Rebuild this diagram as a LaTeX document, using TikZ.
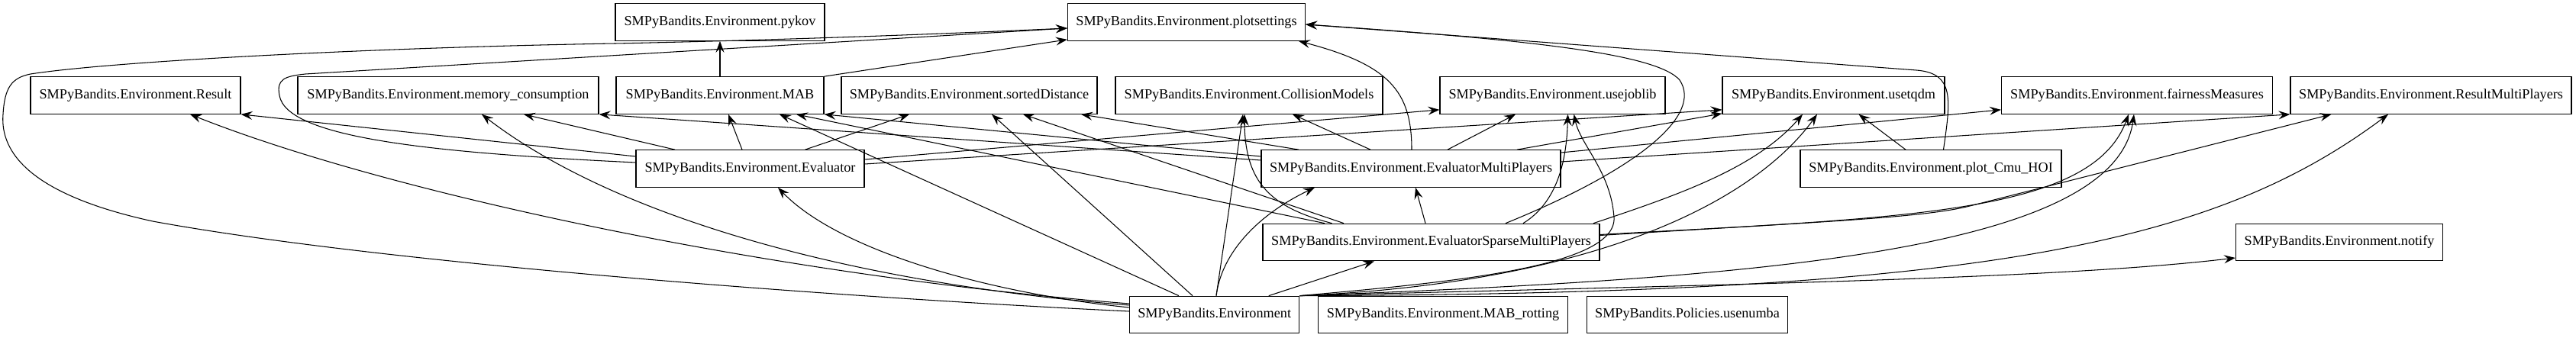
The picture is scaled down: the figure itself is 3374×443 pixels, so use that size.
\documentclass[tikz,border=0pt]{standalone}
\usepackage{fontspec}
\setmainfont{Liberation Serif}
\usetikzlibrary{arrows.meta}
\begin{document}
\begin{tikzpicture}[x=1pt,y=-1pt,
  box/.style={draw, line width=1.2pt, rectangle, minimum height=48.5pt, inner sep=0pt, font=\fontsize{18.2}{20}\selectfont},
  arr/.style={line width=1.05pt, -{Stealth[length=15pt,width=11pt,inset=5.5pt]}}]
\useasboundingbox (0,0) rectangle (3374,443);
\fill[white] (0,0) rectangle (3374,443);
% row 1
\node[box, minimum width=274pt] (pykov) at (943,29) {SMPyBandits.Environment.pykov};
\node[box, minimum width=311pt] (plotsettings) at (1554,29) {SMPyBandits.Environment.plotsettings};
% row 2
\node[box, minimum width=275pt] (Result) at (177.5,125) {SMPyBandits.Environment.Result};
\node[box, minimum width=394pt] (memory) at (587,125) {SMPyBandits.Environment.memory\_consumption};
\node[box, minimum width=272pt] (MAB) at (943,125) {SMPyBandits.Environment.MAB};
\node[box, minimum width=335pt] (sortedDistance) at (1269.5,125) {SMPyBandits.Environment.sortedDistance};
\node[box, minimum width=350pt] (CollisionModels) at (1636,125) {SMPyBandits.Environment.CollisionModels};
\node[box, minimum width=295pt] (usejoblib) at (2033.5,125) {SMPyBandits.Environment.usejoblib};
\node[box, minimum width=291pt] (usetqdm) at (2401.5,125) {SMPyBandits.Environment.usetqdm};
\node[box, minimum width=355pt] (fairness) at (2799,125) {SMPyBandits.Environment.fairnessMeasures};
\node[box, minimum width=368pt] (ResultMP) at (3184,125) {SMPyBandits.Environment.ResultMultiPlayers};
% row 3
\node[box, minimum width=299pt] (Evaluator) at (982.5,221) {SMPyBandits.Environment.Evaluator};
\node[box, minimum width=392pt] (EvalMP) at (1848,221) {SMPyBandits.Environment.EvaluatorMultiPlayers};
\node[box, minimum width=342pt] (plotCmu) at (2529,221) {SMPyBandits.Environment.plot\_Cmu\_HOI};
% row 4
\node[box, minimum width=441pt] (EvalSparse) at (1874.5,317.5) {SMPyBandits.Environment.EvaluatorSparseMultiPlayers};
\node[box, minimum width=271pt] (notify) at (3064,317.5) {SMPyBandits.Environment.notify};
% row 5
\node[box, minimum width=222pt] (Environment) at (1590.7,412.5) {SMPyBandits.Environment};
\node[box, minimum width=327.5pt] (MABrotting) at (1890,412.5) {SMPyBandits.Environment.MAB\_rotting};
\node[box, minimum width=263.5pt] (usenumba) at (2210,412.5) {SMPyBandits.Policies.usenumba};

% MAB
\draw[arr] (MAB.north) -- (pykov.south);
\draw[arr] (MAB.north east) -- ([yshift=2pt]plotsettings.south west);
% Evaluator
\draw[arr] ([xshift=-10.5pt]Evaluator.north) -- ([xshift=11pt]MAB.south);
\draw[arr] ([xshift=72pt]Evaluator.north) -- ([xshift=-78.5pt]sortedDistance.south);
\draw[arr] ([xshift=-98.5pt]Evaluator.north) -- ([xshift=99pt]memory.south);
\draw[arr] ([yshift=16pt]Evaluator.west) -- (Result.south east);
\draw[arr] ([yshift=8pt]Evaluator.west) .. controls (560,200) and (375,180) .. (366,125) .. controls (362,104) and (372,100) .. (400,97) -- ([yshift=-8pt]plotsettings.west);
\draw[arr] ([yshift=12pt]Evaluator.east) -- ([yshift=6pt]usejoblib.south west);
\draw[arr] ([yshift=6pt]Evaluator.east) -- ([yshift=6pt]usetqdm.south west);
% EvaluatorMultiPlayers
\draw[arr] ([yshift=16pt]EvalMP.west) -- (MAB.south east);
\draw[arr] ([yshift=11pt]EvalMP.west) -- (memory.south east);
\draw[arr] ([xshift=-147pt]EvalMP.north) -- ([xshift=146.5pt]sortedDistance.south);
\draw[arr] ([xshift=-53pt]EvalMP.north) -- ([xshift=57pt]CollisionModels.south);
\draw[arr] ([xshift=1pt]EvalMP.north) .. controls (1849,120) and (1820,85) .. ([xshift=147pt]plotsettings.south);
\draw[arr] ([xshift=48pt]EvalMP.north) -- ([xshift=-48.5pt]usejoblib.south);
\draw[arr] ([xshift=139pt]EvalMP.north) -- ([yshift=1pt]usetqdm.south west);
\draw[arr] ([yshift=21pt]EvalMP.east) -- ([yshift=6pt]fairness.south west);
\draw[arr] ([yshift=9pt]EvalMP.east) -- (ResultMP.south west);
% EvaluatorSparseMultiPlayers
\draw[arr] ([xshift=-7.5pt]EvalSparse.north) -- ([xshift=6pt]EvalMP.south);
\draw[arr] ([xshift=-139.5pt]EvalSparse.north) -- ([xshift=100pt]MAB.south);
\draw[arr] ([xshift=-114.5pt]EvalSparse.north) -- ([xshift=70.5pt]sortedDistance.south);
\draw[arr] ([xshift=-130pt]EvalSparse.north) .. controls (1665,272) and (1630,240) .. ([xshift=-6pt]CollisionModels.south);
\draw[arr] ([xshift=97.5pt]EvalSparse.north) .. controls (2150,220) and (2230,150) .. (2200,105) .. controls (2170,70) and (2000,52) .. ([yshift=-3pt]plotsettings.east);
\draw[arr] ([xshift=120.5pt]EvalSparse.north) .. controls (2040,265) and (2052,210) .. ([xshift=20pt]usejoblib.south);
\draw[arr] ([xshift=212.5pt]EvalSparse.north) .. controls (2200,255) and (2300,220) .. ([xshift=-40.5pt]usetqdm.south);
\draw[arr] ([yshift=10pt]EvalSparse.east) .. controls (2500,285) and (2740,280) .. ([xshift=-11pt]fairness.south);
\draw[arr] ([yshift=9pt]EvalSparse.east) .. controls (2400,290) and (2520,285) .. (2580,270) -- ([xshift=-130.5pt]ResultMP.south);
% plot_Cmu_HOI
\draw[arr] ([xshift=-33pt]plotCmu.north) -- ([xshift=33pt]usetqdm.south);
\draw[arr] ([xshift=16.5pt]plotCmu.north) .. controls (2555,130) and (2560,96) .. (2510,92) -- ([yshift=-3pt]plotsettings.east);
% Environment
\draw[arr] ([yshift=4.5pt]Environment.west) .. controls (1100,390) and (500,345) .. (200,290) .. controls (40,255) and (0,200) .. (4,150) .. controls (6,115) and (15,102) .. (40,97) .. controls (150,80) and (500,62) .. (806,57) .. controls (1000,53) and (1200,46) .. ([yshift=-8pt]plotsettings.west);
\draw[arr] ([yshift=14.5pt]Environment.west) .. controls (1000,360) and (500,250) .. ([xshift=71.5pt]Result.south);
\draw[arr] ([yshift=12.5pt]Environment.west) .. controls (1100,370) and (800,280) .. ([xshift=44pt]memory.south);
\draw[arr] ([yshift=9.5pt]Environment.west) .. controls (1300,385) and (1100,330) .. ([xshift=36.5pt]Evaluator.south);
\draw[arr] ([xshift=-46.7pt]Environment.north) -- ([xshift=78pt]MAB.south);
\draw[arr] ([xshift=-28.7pt]Environment.north) -- ([xshift=29.5pt]sortedDistance.south);
\draw[arr] ([xshift=2.3pt]Environment.north) -- ([xshift=-8pt]CollisionModels.south);
\draw[arr] ([xshift=2.3pt]Environment.north) .. controls (1600,330) and (1650,280) .. ([xshift=-126pt]EvalMP.south);
\draw[arr] ([xshift=71pt]Environment.north) -- ([xshift=-74.5pt]EvalSparse.south);
\draw[arr] (Environment.north east) .. controls (1900,370) and (2118,350) .. (2114,285) .. controls (2110,225) and (2070,190) .. ([xshift=28pt]usejoblib.south);
\draw[arr] (Environment.north east) .. controls (2100,370) and (2300,260) .. ([xshift=-21.5pt]usetqdm.south);
\draw[arr] (Environment.north east) .. controls (2300,365) and (2770,330) .. ([xshift=-4pt]fairness.south);
\draw[arr] (Environment.north east) .. controls (2600,385) and (2900,320) .. ([xshift=-56pt]ResultMP.south);
\draw[arr] (Environment.north east) .. controls (2300,372) and (2700,365) .. ([yshift=-20.5pt]notify.west);
\end{tikzpicture}
\end{document}
